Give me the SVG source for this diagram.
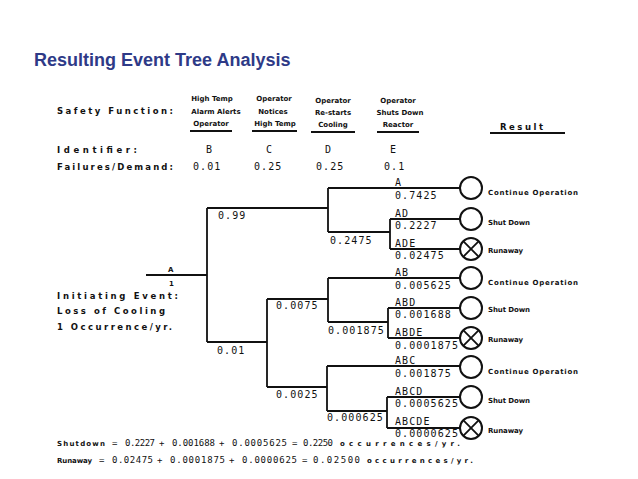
<svg xmlns="http://www.w3.org/2000/svg" width="638" height="479" viewBox="0 0 638 479">
<style>
.title{font-family:"Liberation Sans",Arial,sans-serif;font-weight:bold;font-size:18px;fill:#2E3A87}
.big{font-family:"DejaVu Sans",sans-serif;font-weight:bold;font-size:8.5px;fill:#111}
.sm{font-family:"DejaVu Sans",sans-serif;font-weight:bold;font-size:7px;fill:#111}
.smc{font-family:"DejaVu Sans",sans-serif;font-weight:bold;font-size:7px;fill:#111;text-anchor:middle}
.num{font-family:"DejaVu Sans Mono",monospace;font-size:10px;letter-spacing:1.1px;fill:#111}
.eq{font-family:"DejaVu Sans Mono",monospace;font-size:9px;fill:#111}
.ln{stroke:#111;stroke-width:1.8;fill:none}
.ok{stroke:#111;stroke-width:2;fill:#fff}
</style>
<defs>
<g id="okc"><circle class="ok" cx="0" cy="0" r="11"/></g>
<g id="badc"><circle class="ok" cx="0" cy="0" r="11"/><path class="ln" d="M-7.8,-7.8 L7.8,7.8 M-7.8,7.8 L7.8,-7.8"/></g>
</defs>
<rect width="638" height="479" fill="#fff"/>
<text class="title" x="34" y="66">Resulting Event Tree Analysis</text>

<g id="header">
<text class="big" x="57" y="114" textLength="116" lengthAdjust="spacing">Safety Function:</text>
<text class="big" x="57" y="153" textLength="80" lengthAdjust="spacing">Identifier:</text>
<text class="big" x="57" y="170" textLength="116" lengthAdjust="spacing">Failures/Demand:</text>
<text class="smc" x="212" y="101">High Temp</text>
<text class="smc" x="216" y="114">Alarm Alerts</text>
<text class="smc" x="211" y="126">Operator</text>
<text class="smc" x="274" y="101">Operator</text>
<text class="smc" x="273" y="114">Notices</text>
<text class="smc" x="275" y="126">High Temp</text>
<text class="smc" x="333" y="103">Operator</text>
<text class="smc" x="333" y="115">Re-starts</text>
<text class="smc" x="333" y="127">Cooling</text>
<text class="smc" x="398" y="103">Operator</text>
<text class="smc" x="400" y="115">Shuts Down</text>
<text class="smc" x="398" y="127">Reactor</text>
<text class="big" x="500" y="130" textLength="43" lengthAdjust="spacing">Result</text>
<path class="ln" d="M190,131 H232 M252,131 H297 M311,132 H355 M377,132 H419 M490,133 H565"/>
<text class="num" x="206" y="153">B</text>
<text class="num" x="266" y="153">C</text>
<text class="num" x="325" y="153">D</text>
<text class="num" x="390" y="153">E</text>
<text class="num" x="193" y="170">0.01</text>
<text class="num" x="254" y="170">0.25</text>
<text class="num" x="316" y="170">0.25</text>
<text class="num" x="384" y="170">0.1</text>
</g>

<g id="initiating">
<text class="sm" x="168" y="272">A</text>
<text class="sm" x="169" y="286">1</text>
<text class="big" x="57" y="299" textLength="121" lengthAdjust="spacing">Initiating Event:</text>
<text class="big" x="57" y="314" textLength="108" lengthAdjust="spacing">Loss of Cooling</text>
<text class="big" x="57" y="330" textLength="115" lengthAdjust="spacing">1 Occurrence/yr.</text>
</g>

<g id="connectors">
<path class="ln" d="M146,275 H207 M207,208 V342 M207,208 H328 M207,342 H267"/>
<path class="ln" d="M328,188 V232 M328,188 H460 M328,232 H390 M390,219 V249 M390,219 H460 M390,249 H460"/>
<path class="ln" d="M267,299 V387 M267,299 H328 M267,387 H327"/>
<path class="ln" d="M328,278 V322 M328,278 H460 M328,322 H388 M388,308 V338 M388,308 H460 M388,338 H460"/>
<path class="ln" d="M327,366 V411 M327,366 H460 M327,411 H387 M387,397 V428 M387,397 H460 M387,428 H460"/>
</g>

<g id="branch-labels">
<text class="num" x="218" y="219">0.99</text>
<text class="num" x="330" y="244">0.2475</text>
<text class="num" x="217" y="354">0.01</text>
<text class="num" x="276" y="309">0.0075</text>
<text class="num" x="276" y="398">0.0025</text>
<text class="num" x="328" y="334" letter-spacing="0.6">0.001875</text>
<text class="num" x="327" y="421" letter-spacing="0.6">0.000625</text>
</g>

<g id="seq-labels">
<text class="num" x="395" y="186">A</text>
<text class="num" x="395" y="199">0.7425</text>
<text class="num" x="395" y="217">AD</text>
<text class="num" x="395" y="229">0.2227</text>
<text class="num" x="395" y="247">ADE</text>
<text class="num" x="395" y="259">0.02475</text>
<text class="num" x="395" y="276">AB</text>
<text class="num" x="395" y="289" letter-spacing="0.8">0.005625</text>
<text class="num" x="395" y="306">ABD</text>
<text class="num" x="395" y="318" letter-spacing="0.8">0.001688</text>
<text class="num" x="395" y="336">ABDE</text>
<text class="num" x="395" y="349" letter-spacing="0.8">0.0001875</text>
<text class="num" x="395" y="364">ABC</text>
<text class="num" x="395" y="377" letter-spacing="0.8">0.001875</text>
<text class="num" x="395" y="395">ABCD</text>
<text class="num" x="395" y="407" letter-spacing="0.8">0.0005625</text>
<text class="num" x="395" y="425">ABCDE</text>
<text class="num" x="395" y="437" letter-spacing="0.8">0.0000625</text>
</g>

<g id="out-1"><use href="#okc" x="471" y="188"/><text class="sm" x="488" y="195" textLength="90" lengthAdjust="spacing">Continue Operation</text></g>
<g id="out-2"><use href="#okc" x="471" y="219"/><text class="sm" x="488" y="225" textLength="42" lengthAdjust="spacing">Shut Down</text></g>
<g id="out-3"><use href="#badc" x="471" y="249"/><text class="sm" x="488" y="253" textLength="35" lengthAdjust="spacing">Runaway</text></g>
<g id="out-4"><use href="#okc" x="471" y="278"/><text class="sm" x="488" y="285" textLength="90" lengthAdjust="spacing">Continue Operation</text></g>
<g id="out-5"><use href="#okc" x="471" y="308"/><text class="sm" x="488" y="312" textLength="42" lengthAdjust="spacing">Shut Down</text></g>
<g id="out-6"><use href="#badc" x="471" y="338"/><text class="sm" x="488" y="342" textLength="35" lengthAdjust="spacing">Runaway</text></g>
<g id="out-7"><use href="#okc" x="471" y="367"/><text class="sm" x="488" y="374" textLength="90" lengthAdjust="spacing">Continue Operation</text></g>
<g id="out-8"><use href="#okc" x="471" y="397"/><text class="sm" x="488" y="403" textLength="42" lengthAdjust="spacing">Shut Down</text></g>
<g id="out-9"><use href="#badc" x="471" y="428"/><text class="sm" x="488" y="433" textLength="35" lengthAdjust="spacing">Runaway</text></g>

<g id="equations">
<text class="sm" x="57" y="446" textLength="48" lengthAdjust="spacing">Shutdown</text>
<text class="eq" y="446"><tspan x="112">=</tspan><tspan x="125" textLength="30">0.2227</tspan><tspan x="159">+</tspan><tspan x="172" textLength="43">0.001688</tspan><tspan x="219">+</tspan><tspan x="232" textLength="55">0.0005625</tspan><tspan x="292">=</tspan><tspan x="303" textLength="30">0.2250</tspan></text>
<text class="sm" x="340" y="446" textLength="120" lengthAdjust="spacing">occurrences/yr.</text>
<text class="sm" x="57" y="463" textLength="35" lengthAdjust="spacing">Runaway</text>
<text class="eq" y="463"><tspan x="99">=</tspan><tspan x="112" textLength="41">0.02475</tspan><tspan x="157">+</tspan><tspan x="170" textLength="55">0.0001875</tspan><tspan x="229">+</tspan><tspan x="242" textLength="55">0.0000625</tspan><tspan x="302">=</tspan><tspan x="313" textLength="47">0.02500</tspan></text>
<text class="sm" x="367" y="463" textLength="106" lengthAdjust="spacing">occurrences/yr.</text>
</g>
</svg>
